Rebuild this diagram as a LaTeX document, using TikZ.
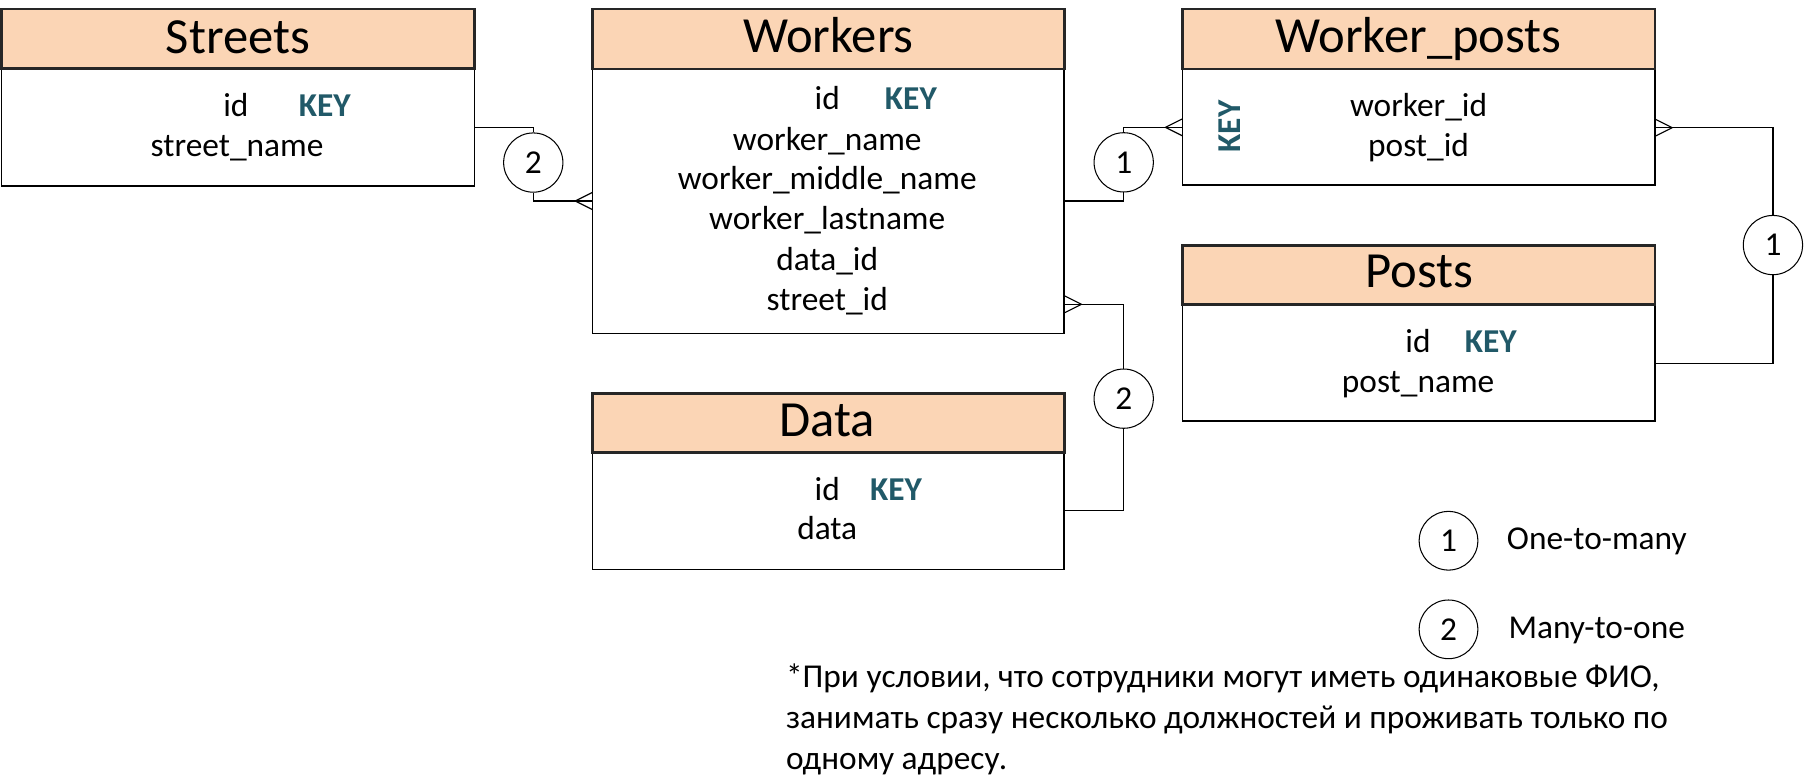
\documentclass[tikz,border=0pt]{standalone}
\usepackage{fontspec}
\setmainfont{Carlito}
\usetikzlibrary{shapes.geometric,calc}
\definecolor{hdrfill}{HTML}{FBD5B5}
\definecolor{keycol}{HTML}{215968}
\definecolor{hdrline}{HTML}{262626}
\newcommand{\bodyf}{\fontsize{29}{35}\selectfont}
\newcommand{\titlef}{\fontsize{44}{52}\selectfont}
\newcommand{\crowfoot}[2]{%
  \draw[conn] ([xshift=#2]#1) -- ([yshift=7.5pt]#1) ([xshift=#2]#1) -- ([yshift=-7.5pt]#1);}
\tikzset{
  hdr/.style={draw=hdrline, line width=2.2pt, fill=hdrfill, inner sep=0, outer sep=0, anchor=north west},
  bodyb/.style={draw=black, line width=1.3pt, fill=white, inner sep=0, outer sep=0, anchor=north west},
  ttl/.style={anchor=base, font=\titlef, inner sep=0},
  fld/.style={anchor=base, font=\bodyf, inner sep=0},
  keyw/.style={anchor=base west, font=\bodyf\bfseries, text=keycol, inner sep=0},
  rel/.style={circle, draw, line width=0.9pt, minimum size=51.5pt, inner sep=0, font=\bodyf},
  leg/.style={circle, draw, line width=0.9pt, minimum size=51pt, inner sep=0, font=\bodyf},
  conn/.style={line width=1pt},
  note/.style={anchor=base west, font=\bodyf, inner sep=0}
}
\begin{document}
\begin{tikzpicture}[x=1pt,y=-1pt]
\fill[white] (0,0) rectangle (1568,677);
\useasboundingbox (0,0) rectangle (1568,677);

% Streets
\node[bodyb, minimum width=411pt, minimum height=102pt] (streetsB) at (1.3,59.5) {};
\node[hdr, minimum width=411pt, minimum height=51.5pt] (streetsH) at (1.3,8) {};
\node[ttl] (streetsT) at (206.8,46.4) {Streets};
\node[fld] (sid) at (205,101.4) {id};
\node[keyw] (sidk) at (259.5,101.4) {KEY};
\node[fld] (sname) at (206,136.2) {street\_name};

% Workers
\node[bodyb, minimum width=410pt, minimum height=230pt] (workersB) at (515,60) {};
\node[hdr, minimum width=410pt, minimum height=52pt] (workersH) at (515,8) {};
\node[ttl] (workersT) at (720,45.5) {Workers};
\node[fld] (wid) at (719,95.6) {id};
\node[keyw] (widk) at (769,95.6) {KEY};
\node[fld] (wname) at (719,130.4) {worker\_name};
\node[fld] (wmid) at (719,165.1) {worker\_middle\_name};
\node[fld] (wlast) at (719,199.9) {worker\_lastname};
\node[fld] (wdata) at (719,234.7) {data\_id};
\node[fld] (wstreet) at (719,269.5) {street\_id};

% Worker_posts
\node[bodyb, minimum width=410.5pt, minimum height=101pt] (wpB) at (1028,60) {};
\node[hdr, minimum width=410.5pt, minimum height=52pt] (wpH) at (1028,8) {};
\node[ttl] (wpT) at (1233,45.5) {Worker\_posts};
\node[fld] (wpw) at (1233,101.4) {worker\_id};
\node[fld] (wpp) at (1233,136.2) {post\_id};
\node[font=\bodyf\bfseries, text=keycol, rotate=90, inner sep=0] (wpk) at (1068.5,110) {KEY};

% Posts
\node[bodyb, minimum width=410.5pt, minimum height=101.5pt] (postsB) at (1028,264.5) {};
\node[hdr, minimum width=410.5pt, minimum height=51pt] (postsH) at (1028,213.5) {};
\node[ttl] (postsT) at (1233.5,250.3) {Posts};
\node[fld] (pid) at (1232.5,306.5) {id};
\node[keyw] (pidk) at (1273,306.5) {KEY};
\node[fld] (pname) at (1232.6,341.3) {post\_name};

% Data
\node[bodyb, minimum width=410pt, minimum height=101.5pt] (dataB) at (515,393.5) {};
\node[hdr, minimum width=410pt, minimum height=51.5pt] (dataH) at (515,342) {};
\node[ttl] (dataT) at (719,379) {Data};
\node[fld] (did) at (719,434.6) {id};
\node[keyw] (didk) at (756,434.6) {KEY};
\node[fld] (ddata) at (719,468.8) {data};

% relation circles
\node[rel] (cSW) at (463.5,141.3) {2};
\node[rel] (cWP) at (976.7,141.1) {1};
\node[rel] (cWD) at (976.7,346.5) {2};
\node[rel] (cPP) at (1541,213) {1};

% connector Streets - Workers
\coordinate (sEx) at ([yshift=-51pt]streetsB.north east);
\draw[conn] (sEx) -| (cSW.north);
\coordinate (wWx) at ([yshift=-114.7pt]workersB.north west);
\draw[conn] (cSW.south) |- (wWx);
\crowfoot{wWx}{-15pt}

% connector Workers - Worker_posts
\coordinate (wEa) at ([yshift=-114.7pt]workersB.north east);
\draw[conn] (wEa) -| (cWP.south);
\coordinate (pWx) at ([yshift=-50.7pt]wpB.north west);
\draw[conn] (cWP.north) |- (pWx);
\crowfoot{pWx}{-15pt}

% connector Workers - Data
\coordinate (wEb) at ([yshift=-204.5pt]workersB.north east);
\draw[conn] (wEb) -| (cWD.north);
\crowfoot{wEb}{15pt}
\coordinate (dEx) at ([yshift=-50.5pt]dataB.north east);
\draw[conn] (cWD.south) |- (dEx);

% connector Worker_posts - Posts
\coordinate (pEx) at ([yshift=-51pt]wpB.north east);
\draw[conn] (pEx) -| (cPP.north);
\crowfoot{pEx}{15pt}
\coordinate (poEx) at ([yshift=-51.3pt]postsB.north east);
\draw[conn] (cPP.south) |- (poEx);

% legend
\node[leg] (L1) at (1259,470) {1};
\node[note] (L1t) at (1309.6,478) {One-to-many};
\node[leg] (L2) at (1259,547) {2};
\node[note] (L2t) at (1311,554.6) {Many-to-one};

% note
\node[note] (n1) at (683,597.5) {*При условии, что сотрудники могут иметь одинаковые ФИО,};
\node[note] (n2) at (683,633) {занимать сразу несколько должностей и проживать только по};
\node[note] (n3) at (683,668.5) {одному адресу.};
\end{tikzpicture}
\end{document}
